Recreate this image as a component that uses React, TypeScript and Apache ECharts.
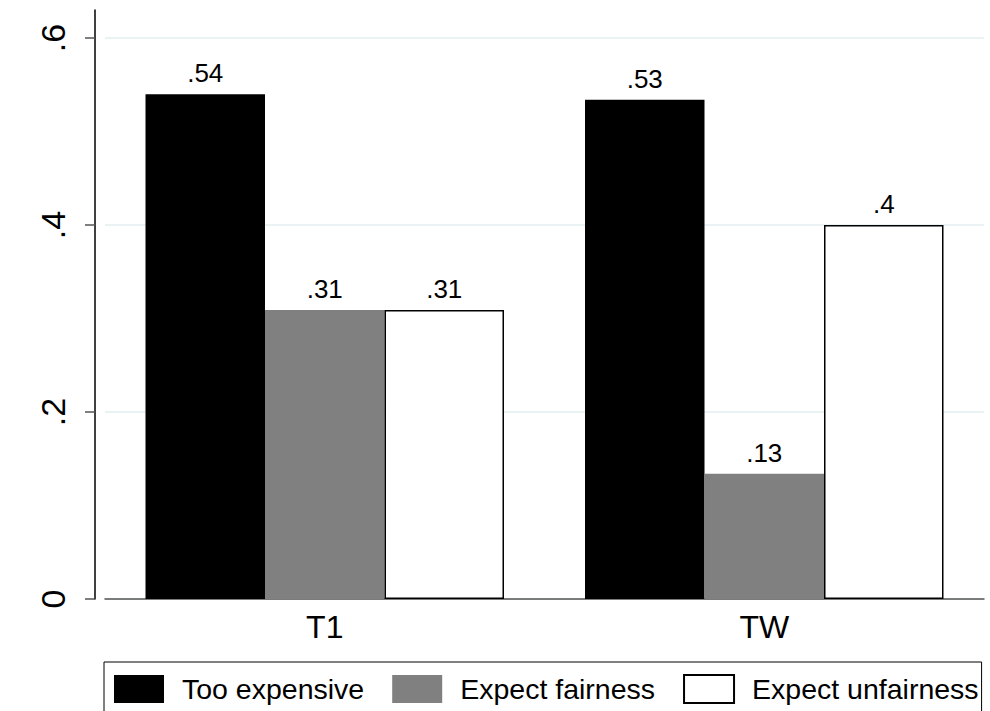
import React, { useEffect, useRef } from "react";
import * as echarts from "echarts";

const categories = ["T1", "TW"];
const seriesNames = ["Too expensive", "Expect fairness", "Expect unfairness"];
const tooExpensive = [0.54, 0.534];
const expectFairness = [0.309, 0.134];
const expectUnfairness = [0.309, 0.4];
const yTicks = [0, 0.2, 0.4, 0.6];

const FONT = "'Liberation Sans', Arial, Helvetica, sans-serif";

const fmtAxis = (v: number) => (v === 0 ? "0" : String(v).replace(/^0/, ""));
const fmtVal = (v: number) => String(Math.round(v * 100) / 100).replace(/^0/, "");

export default function App() {
  const ref = useRef<HTMLDivElement>(null);
  useEffect(() => {
    document.body.style.margin = "0";
    const chart = echarts.init(ref.current!, null, { renderer: "svg" });
    const label = {
      show: true,
      position: "top",
      distance: 8,
      color: "#000",
      fontSize: 26,
      fontFamily: FONT,
      formatter: (p: any) => fmtVal(p.value),
    };
    chart.setOption({
      animation: false,
      backgroundColor: "#fff",
      grid: { left: 105, right: 6, top: 10, bottom: 112 },
      legend: {
        left: 104,
        top: 662,
        width: 884,
        orient: "horizontal",
        padding: [12, 3, 30, 10],
        borderColor: "#000",
        borderWidth: 1,
        itemWidth: 50,
        itemHeight: 28,
        itemGap: 28,
        icon: "rect",
        textStyle: { fontSize: 28.5, fontFamily: FONT, color: "#000", padding: [0, 0, 0, 13] },
        data: seriesNames,
      },
      xAxis: {
        type: "category",
        data: categories,
        axisLine: { show: true, lineStyle: { color: "#555", width: 1.5 } },
        axisTick: { show: false },
        axisLabel: { color: "#000", fontSize: 32, fontFamily: FONT, margin: 12 },
      },
      yAxis: {
        type: "value",
        min: 0,
        max: 0.63,
        offset: 10,
        axisLine: { show: true, lineStyle: { color: "#000", width: 1.5 } },
        axisTick: {
          show: true,
          length: 10,
          lineStyle: { color: "#555", width: 1.5 },
          customValues: yTicks,
        },
        axisLabel: {
          color: "#000",
          fontSize: 34,
          fontFamily: FONT,
          rotate: 90,
          margin: 25,
          customValues: yTicks,
          formatter: (v: number) => fmtAxis(v),
        },
        splitLine: { show: true, lineStyle: { color: "#eaf2f3", width: 2 } },
      },
      series: [
        {
          name: seriesNames[0],
          type: "bar",
          data: tooExpensive,
          barWidth: 119.5,
          barGap: "0%",
          itemStyle: { color: "#000" },
          label,
        },
        {
          name: seriesNames[1],
          type: "bar",
          data: expectFairness,
          barWidth: 119.5,
          barGap: "0%",
          itemStyle: { color: "#808080" },
          label,
        },
        {
          name: seriesNames[2],
          type: "bar",
          data: expectUnfairness,
          barWidth: 119.5,
          barGap: "0%",
          itemStyle: { color: "#fff", borderColor: "#000", borderWidth: 1.5 },
          label,
        },
      ],
    });
    return () => chart.dispose();
  }, []);
  return <div ref={ref} style={{ width: 990, height: 711 }} />;
}
